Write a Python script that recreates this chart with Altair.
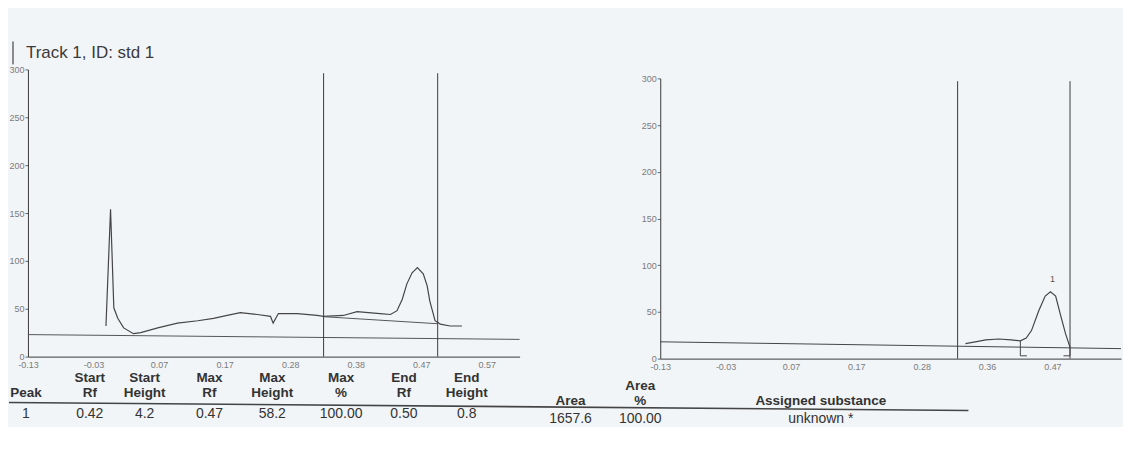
import altair as alt
import pandas as pd

# ---------------- values ----------------
title_text = ["Track 1, ID: std 1"]

rf_ticks = [-0.125, -0.025, 0.075, 0.175, 0.275, 0.375, 0.475, 0.575]
left_tick_labels = ["-0.13", "-0.03", "0.07", "0.17", "0.28", "0.38", "0.47", "0.57"]
right_tick_labels = ["-0.13", "-0.03", "0.07", "0.17", "0.28", "0.36", "0.47", ""]
height_ticks = [0, 50, 100, 150, 200, 250, 300]

# left panel: scan trace
left_rf = [-0.006, 0.001, 0.006, 0.012, 0.021, 0.036, 0.047, 0.073, 0.103, 0.134,
           0.158, 0.179, 0.199, 0.225, 0.245, 0.249, 0.257, 0.286, 0.316, 0.326,
           0.356, 0.377, 0.412, 0.428, 0.438, 0.446, 0.453, 0.461, 0.469, 0.478,
           0.484, 0.488, 0.496, 0.504, 0.519, 0.537]
left_height = [32, 154, 51, 40, 30, 24, 25, 30, 35, 37.5,
               40, 43, 46, 44, 42, 35, 45, 45, 43, 42,
               43, 47, 45, 44, 48, 60, 76, 87.5, 93, 86.5,
               74, 58, 37.5, 34, 32, 32]
left_base_rf = [-0.125, 0.625]
left_base_height = [23, 18]
left_peak_base_rf = [0.326, 0.499]
left_peak_base_height = [41.7, 34.4]
left_vline_rf = [0.326, 0.50]
left_vline_top = [296, 296]

# right panel: integrated peak
right_rf = [0.342, 0.357, 0.373, 0.393, 0.412, 0.426, 0.435, 0.443, 0.454, 0.464,
            0.472, 0.480, 0.487, 0.495, 0.502]
right_height = [16, 18, 20, 21, 20, 19, 22, 30, 51, 67, 71.5, 67, 48, 27, 12]
right_base_rf = [-0.125, 0.58]
right_base_height = [18, 10.7]
right_vline_rf = [0.330, 0.502]
right_vline_top = [297, 297]
start_marker_rf = [0.426, 0.426, 0.436]
start_marker_height = [19, 3, 3]
end_marker_rf = [0.502, 0.502, 0.492]
end_marker_height = [12, 3, 3]
peak_label = ["1"]
peak_label_rf = [0.475]
peak_label_height = [80]

# table
header_top = ["", "Start", "Start", "Max", "Max", "Max", "End", "End", "", "Area", ""]
header_bottom = ["Peak", "Rf", "Height", "Rf", "Height", "%", "Rf", "Height", "Area", "%",
                 "Assigned substance"]
row_values = ["1", "0.42", "4.2", "0.47", "58.2", "100.00", "0.50", "0.8", "1657.6",
              "100.00", "unknown *"]

# ---------------- styling / layout ----------------
FONT = "Liberation Sans"
AX = "#3a3a3a"
LAB = "#7a7a7a"
TRACE = "#454545"


def label_expr(labels):
    expr = "'" + labels[-1] + "'"
    for pos, lab in reversed(list(zip(rf_ticks[:-1], labels[:-1]))):
        expr = "datum.value < %.3f ? '%s' : (%s)" % (pos + 0.05, lab, expr)
    return expr


def x_axis(labels, offset):
    return alt.Axis(orient="bottom", values=rf_ticks, labelExpr=label_expr(labels),
                    ticks=False, grid=False, domainColor=AX, labelColor=LAB,
                    labelFontSize=9, labelFont=FONT, labelPadding=4, labelFlush=False,
                    title=None, offset=offset)


def y_axis(offset):
    return alt.Axis(orient="left", values=height_ticks, format="d", grid=False,
                    tickSize=3, tickColor="#666666", domainColor=AX, labelColor=LAB,
                    labelFontSize=9, labelFont=FONT, labelPadding=1, title=None,
                    offset=offset)


# ---- left panel ----
lxs = alt.Scale(domain=[-0.125, 0.625], range=[0, 493], nice=False, zero=False)
lys = alt.Scale(domain=[0, 300], range=[288, 0], nice=False, zero=False)
lxa = x_axis(left_tick_labels, -2)
lya = y_axis(0)

def lx():
    return alt.X("rf:Q", scale=lxs, axis=lxa)

def ly():
    return alt.Y("v:Q", scale=lys, axis=lya)

l_trace = alt.Chart(pd.DataFrame({"rf": left_rf, "v": left_height})).mark_line(
    color=TRACE, strokeWidth=1.2).encode(x=lx(), y=ly())
l_base = alt.Chart(pd.DataFrame({"rf": left_base_rf, "v": left_base_height})).mark_line(
    color="#555555", strokeWidth=1).encode(x=lx(), y=ly())
l_pbase = alt.Chart(pd.DataFrame({"rf": left_peak_base_rf, "v": left_peak_base_height})).mark_line(
    color="#555555", strokeWidth=1).encode(x=lx(), y=ly())
l_vl = alt.Chart(pd.DataFrame({"rf": left_vline_rf, "v": [0, 0], "v2": left_vline_top})).mark_rule(
    color=AX, strokeWidth=1).encode(x=lx(), y=ly(), y2="v2:Q")
# track title and the small bar to its left
l_bar = alt.Chart(pd.DataFrame({"k": [0]})).mark_rule(color="#8a8a8a", strokeWidth=2).encode(
    x=alt.value(-15), y=alt.value(-28), y2=alt.value(-5))
l_title = alt.Chart(pd.DataFrame({"t": title_text})).mark_text(
    align="left", baseline="middle", font=FONT, fontSize=17, color="#3a3a3a").encode(
    x=alt.value(-2), y=alt.value(-16), text="t:N")
left_panel = alt.layer(l_trace, l_base, l_pbase, l_vl, l_bar, l_title)

# ---- right panel ----
rxs = alt.Scale(domain=[-0.125, 0.58], range=[634, 1096], nice=False, zero=False)
rys = alt.Scale(domain=[0, 300], range=[290, 9], nice=False, zero=False)
rxa = x_axis(right_tick_labels, 0)
rya = y_axis(-634)

def rx():
    return alt.X("rf:Q", scale=rxs, axis=rxa)

def ry():
    return alt.Y("v:Q", scale=rys, axis=rya)

r_trace = alt.Chart(pd.DataFrame({"rf": right_rf, "v": right_height})).mark_line(
    color=TRACE, strokeWidth=1.2).encode(x=rx(), y=ry())
r_base = alt.Chart(pd.DataFrame({"rf": right_base_rf, "v": right_base_height})).mark_line(
    color="#444444", strokeWidth=1).encode(x=rx(), y=ry())
r_vl = alt.Chart(pd.DataFrame({"rf": right_vline_rf, "v": [0, 0], "v2": right_vline_top})).mark_rule(
    color=AX, strokeWidth=1).encode(x=rx(), y=ry(), y2="v2:Q")
markers = pd.DataFrame({
    "rf": start_marker_rf + end_marker_rf,
    "v": start_marker_height + end_marker_height,
    "m": ["s"] * 3 + ["e"] * 3,
    "i": [0, 1, 2, 0, 1, 2],
})
r_mark = alt.Chart(markers).mark_line(color="#444444", strokeWidth=1).encode(
    x=rx(), y=ry(), detail="m:N", order="i:Q")
r_lab = alt.Chart(pd.DataFrame({"rf": peak_label_rf, "v": peak_label_height, "t": peak_label})).mark_text(
    font=FONT, fontSize=9, color="#555555", baseline="bottom").encode(x=rx(), y=ry(), text="t:N")
right_panel = alt.layer(r_trace, r_base, r_vl, r_mark, r_lab)

# ---- table below the panels ----
col_px = [-2, 62, 117, 182, 245, 314, 377, 440, 544, 614, 795]
row_px = [309, 324, 346, 317, 333, 351]
tx = alt.Scale(domain=list(range(len(header_bottom))), range=col_px)
ty = alt.Scale(domain=list(range(6)), range=row_px)

recs = []
for i in range(len(header_bottom)):
    g = 0 if i < 8 else 3
    recs.append({"c": i, "r": g + 0, "t": header_top[i], "kind": "h"})
    recs.append({"c": i, "r": g + 1, "t": header_bottom[i], "kind": "h"})
    recs.append({"c": i, "r": g + 2, "t": row_values[i], "kind": "d"})
tdf = pd.DataFrame(recs)

t_head = alt.Chart(tdf).transform_filter("datum.kind == 'h'").mark_text(
    font=FONT, fontSize=13.5, fontWeight="bold", color="#333333", baseline="middle").encode(
    x=alt.X("c:Q", scale=tx, axis=None), y=alt.Y("r:Q", scale=ty, axis=None), text="t:N")
t_data = alt.Chart(tdf).transform_filter("datum.kind == 'd'").mark_text(
    font=FONT, fontSize=14, color="#333333", baseline="middle").encode(
    x=alt.X("c:Q", scale=tx, axis=None), y=alt.Y("r:Q", scale=ty, axis=None), text="t:N")
t_rule = alt.Chart(pd.DataFrame({"k": [0]})).mark_rule(color="#444444", strokeWidth=1.6).encode(
    x=alt.value(-19), x2=alt.value(943), y=alt.value(334), y2=alt.value(342))
table = alt.layer(t_head, t_data, t_rule)

chart = alt.layer(left_panel, right_panel, table).resolve_scale(
    x="independent", y="independent"
).properties(
    width=1096,
    height=290,
    padding={"left": 0, "top": 32, "right": 0, "bottom": 0},
    background="#f2f5f8",
).configure_view(stroke=None)

chart.save("out.html", embed_options={"renderer": "svg", "actions": False})
